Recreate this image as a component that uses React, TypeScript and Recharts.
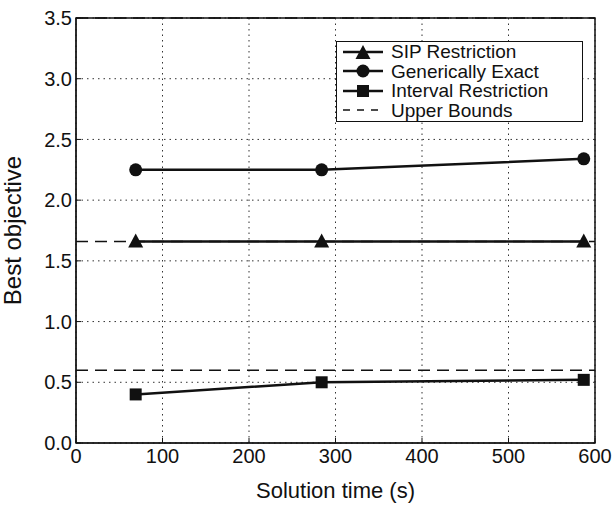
import React from 'react';
import {
  LineChart,
  Line,
  XAxis,
  YAxis,
  CartesianGrid,
  ReferenceLine,
  ReferenceArea,
} from 'recharts';

const times = [69, 284, 587];
const sipRestriction = [1.66, 1.66, 1.66];
const genericallyExact = [2.25, 2.25, 2.34];
const intervalRestriction = [0.4, 0.5, 0.52];
const upperBounds = [0.6, 1.66, 3.5];

const xTicks = [0, 100, 200, 300, 400, 500, 600];
const yTicks = [0, 0.5, 1.0, 1.5, 2.0, 2.5, 3.0, 3.5];

const data = times.map((t, i) => ({
  time: t,
  sip: sipRestriction[i],
  exact: genericallyExact[i],
  interval: intervalRestriction[i],
}));

const INK = '#111';
const FONT = '"Liberation Sans", Arial, Helvetica, sans-serif';

const Triangle = ({ cx, cy }: any) => (
  <path d={`M${cx},${cy - 8} L${cx + 7.5},${cy + 6} L${cx - 7.5},${cy + 6} Z`} fill={INK} />
);
const Circle = ({ cx, cy }: any) => <circle cx={cx} cy={cy} r={6.5} fill={INK} />;
const Square = ({ cx, cy }: any) => (
  <rect x={cx - 6} y={cy - 6} width={12} height={12} fill={INK} />
);

const legendItems = [
  { label: 'SIP Restriction', marker: 'triangle' },
  { label: 'Generically Exact', marker: 'circle' },
  { label: 'Interval Restriction', marker: 'square' },
  { label: 'Upper Bounds', marker: 'dash' },
];

// legend box drawn as plain html over the plot
const ChartLegend = () => (
  <div
    style={{
      position: 'absolute',
      left: 336,
      top: 41,
      width: 247,
      height: 81,
      boxSizing: 'border-box',
      border: `1.5px solid ${INK}`,
      background: '#fff',
      fontFamily: FONT,
      fontSize: 19,
      color: INK,
    }}
  >
    {legendItems.map((item) => (
      <div key={item.label} style={{ display: 'flex', alignItems: 'center', height: 19.5 }}>
        <svg width={50} height={20} style={{ marginLeft: 4, flex: 'none' }}>
          {item.marker === 'dash' ? (
            <line x1={2} y1={10} x2={42} y2={10} stroke={INK} strokeWidth={1.5} strokeDasharray="7 7" />
          ) : (
            <line x1={2} y1={10} x2={42} y2={10} stroke={INK} strokeWidth={2.5} />
          )}
          {item.marker === 'triangle' && <Triangle cx={22} cy={11} />}
          {item.marker === 'circle' && <Circle cx={22} cy={10} />}
          {item.marker === 'square' && <Square cx={22} cy={10} />}
        </svg>
        <span style={{ lineHeight: '19px', whiteSpace: 'nowrap' }}>{item.label}</span>
      </div>
    ))}
  </div>
);

export default function App() {
  return (
    <div style={{ position: 'absolute', left: 0, top: 0, width: 612, height: 507, background: '#fff' }}>
      <LineChart
        width={612}
        height={507}
        data={data}
        margin={{ top: 18, right: 17, left: 0, bottom: 0 }}
        style={{ fontFamily: FONT }}
      >
        <CartesianGrid stroke="#333" strokeDasharray="1.5 4" />
        <XAxis
          dataKey="time"
          type="number"
          domain={[0, 600]}
          ticks={xTicks}
          height={64}
          tickSize={-5}
          tickMargin={11}
          stroke={INK}
          tick={{ fill: INK, fontSize: 20 }}
          label={{ value: 'Solution time (s)', position: 'insideBottom', offset: 9, fill: INK, fontSize: 22 }}
        />
        <XAxis
          xAxisId="top"
          dataKey="time"
          type="number"
          orientation="top"
          domain={[0, 600]}
          ticks={xTicks}
          height={0}
          tickSize={-5}
          tickFormatter={() => ''}
          stroke={INK}
        />
        <YAxis
          type="number"
          domain={[0, 3.5]}
          ticks={yTicks}
          width={76}
          tickSize={-5}
          tickMargin={9}
          stroke={INK}
          tickFormatter={(v: number) => v.toFixed(1)}
          tick={{ fill: INK, fontSize: 20 }}
          label={{ value: 'Best objective', angle: -90, position: 'insideLeft', offset: 12, fill: INK, fontSize: 24, style: { textAnchor: 'middle' } }}
        />
        <YAxis
          yAxisId="right"
          type="number"
          orientation="right"
          domain={[0, 3.5]}
          ticks={yTicks}
          width={0}
          tickSize={-5}
          tickFormatter={() => ''}
          stroke={INK}
        />
        <ReferenceArea x1={0} x2={600} y1={0} y2={3.5} fill="none" stroke={INK} strokeWidth={1.5} />
        {upperBounds.map((ub) => (
          <ReferenceLine key={ub} y={ub} stroke={INK} strokeWidth={1.5} strokeDasharray="12 7" />
        ))}
        <Line
          dataKey="sip"
          stroke={INK}
          strokeWidth={2.5}
          dot={(p: any) => <Triangle key={`sip-${p.index}`} {...p} />}
          isAnimationActive={false}
        />
        <Line
          dataKey="exact"
          stroke={INK}
          strokeWidth={2.5}
          dot={(p: any) => <Circle key={`ex-${p.index}`} {...p} />}
          isAnimationActive={false}
        />
        <Line
          dataKey="interval"
          stroke={INK}
          strokeWidth={2.5}
          dot={(p: any) => <Square key={`in-${p.index}`} {...p} />}
          isAnimationActive={false}
        />
      </LineChart>
      <ChartLegend />
    </div>
  );
}
